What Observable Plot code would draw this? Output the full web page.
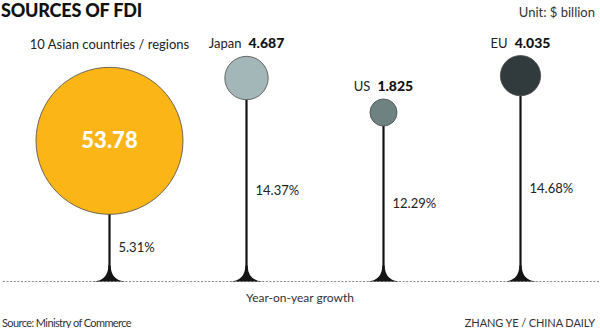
<!DOCTYPE html>
<html><head><meta charset="utf-8">
<script src="https://cdn.jsdelivr.net/npm/d3@7"></script>
<script src="https://cdn.jsdelivr.net/npm/@observablehq/plot@0.6"></script>
<style>
body{margin:0;background:#fff;}
#wrap{position:relative;width:600px;height:328px;overflow:hidden;font-family:Lato,"Open Sans",sans-serif;color:#222;background:#fff}
#title{position:absolute;left:1px;top:1px;font-size:18px;line-height:18px;font-weight:900;color:#111;letter-spacing:-0.2px}
#unit{position:absolute;right:5px;top:6px;font-size:13px;line-height:13px;color:#333}
#chart{position:absolute;left:0;top:24px}
#xlabel{position:absolute;left:0;width:600px;text-align:center;top:292px;font-size:12px;line-height:12px;color:#333}
#source,#credit{position:absolute;top:317px;font-size:11px;line-height:11px;color:#333}
#source{left:2px;letter-spacing:-0.6px}
#credit{right:5px;letter-spacing:-0.1px}
</style></head><body>
<div id="wrap">
<div id="title">SOURCES OF FDI</div>
<div id="unit">Unit: $ billion</div>
<div id="chart"></div>
<div id="xlabel">Year-on-year growth</div>
<div id="source">Source: Ministry of Commerce</div>
<div id="credit">ZHANG YE / CHINA DAILY</div>
</div>
<script>
// Data
const sources = ["10 Asian countries / regions", "Japan", "US", "EU"];
const fdi = [53.78, 4.687, 1.825, 4.035];          // $ billion
const growth = [5.31, 14.37, 12.29, 14.68];        // year-on-year growth, %
const colors = ["#FBB516", "#A3B6B8", "#6E8282", "#313B3D"];

const data = sources.map((name, i) => ({name, value: fdi[i], growth: growth[i], color: colors[i]}));
const maxV = d3.max(fdi);
const rMax = 73.5;
const rOf = v => rMax * Math.sqrt(v / maxV);
const inside = d => d.value === maxV;

// render transform: lift positions above the stem top
const liftDot = (index, scales, values, dimensions, context, next) => {
  const y = Float64Array.from(values.y, (yy, i) => yy - values.r[i]);
  return next(index, scales, {...values, y}, dimensions, context);
};
const liftBy = (rows, f) => (index, scales, values, dimensions, context, next) => {
  const y = Float64Array.from(values.y, (yy, i) => yy - f(rows[i]));
  return next(index, scales, {...values, y}, dimensions, context);
};

const flare = {
  draw(ctx) {
    ctx.moveTo(-16, 0);
    ctx.quadraticCurveTo(-1.5, -1, -1.1, -16);
    ctx.lineTo(1.1, -16);
    ctx.quadraticCurveTo(1.5, -1, 16, 0);
    ctx.closePath();
  }
};

const insideRows = data.filter(inside);

const chart = Plot.plot({
  width: 600,
  height: 290,
  marginTop: 4,
  marginBottom: 33,
  marginLeft: 3,
  marginRight: 0,
  x: {type: "point", domain: sources, padding: 0, insetLeft: 105, insetRight: 79, axis: null},
  y: {domain: [0, 20], axis: null},
  r: {type: "sqrt", domain: [0, maxV], range: [0, rMax]},
  style: {fontFamily: "Lato, 'Open Sans', sans-serif", overflow: "visible"},
  marks: [
    Plot.ruleY([0], {stroke: "#8a8a8a", strokeWidth: 1, strokeDasharray: "2,1.6"}),
    Plot.ruleX(data, {x: "name", y1: () => 0, y2: "growth", stroke: "#141414", strokeWidth: 2.2}),
    Plot.dot(data, {x: "name", y: () => 0, symbol: flare, fill: "#141414", stroke: "none"}),
    Plot.dot(data, {x: "name", y: "growth", r: "value", fill: "color", stroke: "#4a4a4a", strokeWidth: 0.8, render: liftDot}),
    Plot.text(insideRows, {x: "name", y: "growth", text: d => d.value.toFixed(2), fill: "white",
      fontSize: 22, fontWeight: 900, render: liftBy(insideRows, d => rOf(d.value))}),
    Plot.text(data, {x: "name", y: d => d.growth / 2, text: d => d.growth.toFixed(2) + "%",
      dx: 9, textAnchor: "start", fontSize: 13, fill: "#222"}),
    Plot.text(data, {x: "name", y: "growth",
      text: d => inside(d) ? d.name : d.name + "|" + d.value.toFixed(3),
      fontSize: 13, fill: "#222",
      render: liftBy(data, d => 2 * rOf(d.value) + (inside(d) ? 23 : 12))})
  ]
});

// style the value part of each top label in bold
d3.select(chart).selectAll("text").each(function () {
  const t = this.textContent;
  if (!t || t.indexOf("|") < 0) return;
  const parts = t.split("|");
  const sel = d3.select(this);
  sel.selectAll("*").remove();
  sel.text(null);
  sel.append("tspan").text(parts[0]);
  sel.append("tspan").attr("dx", 7).attr("font-weight", 900).attr("font-size", 14).attr("fill", "#111").text(parts[1]);
});

document.getElementById("chart").appendChild(chart);
</script>
</body></html>
